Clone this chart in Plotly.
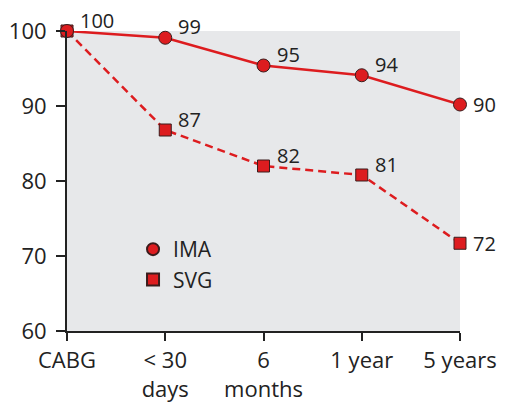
import plotly.graph_objects as go

# dados
categorias = ["CABG", "< 30<br>days", "6<br>months", "1 year", "5 years"]
ima = [100, 99.1, 95.4, 94.1, 90.2]
svg = [100, 86.8, 82.0, 80.8, 71.7]
ima_rotulos = ["100", "99", "95", "94", "90"]
svg_rotulos = ["", "87", "82", "81", "72"]

vermelho = "#dd1c1f"
borda = "#3a1c1c"
fonte = "Open Sans"

x = list(range(len(categorias)))

fig = go.Figure()
fig.add_trace(go.Scatter(
    x=x, y=svg, mode="lines+markers",
    line=dict(color=vermelho, width=2.5, dash="8px,5px"),
    marker=dict(symbol="square", size=12, color=vermelho, line=dict(color=borda, width=1)),
    cliponaxis=False, showlegend=False))
fig.add_trace(go.Scatter(
    x=x, y=ima, mode="lines+markers",
    line=dict(color=vermelho, width=2.5),
    marker=dict(symbol="circle", size=13, color=vermelho, line=dict(color=borda, width=1)),
    cliponaxis=False, showlegend=False))

# rotulos dos pontos
for serie, rotulos in [(ima, ima_rotulos), (svg, svg_rotulos)]:
    for i, (v, r) in enumerate(zip(serie, rotulos)):
        if not r:
            continue
        ultimo = i == len(serie) - 1
        fig.add_annotation(
            x=x[i], y=v, text=r, showarrow=False,
            xanchor="left", yanchor="middle",
            xshift=11, yshift=0 if ultimo else 11,
            font=dict(size=20, color="#222", family=fonte))

# entradas da legenda so com marcador
fig.add_trace(go.Scatter(x=[None], y=[None], mode="markers", name="IMA",
    marker=dict(symbol="circle", size=12, color=vermelho, line=dict(color=borda, width=1))))
fig.add_trace(go.Scatter(x=[None], y=[None], mode="markers", name="SVG",
    marker=dict(symbol="square", size=11, color=vermelho, line=dict(color=borda, width=1))))

# a pagina tem 8px de margem no body
fig.update_layout(
    width=505, height=402,
    margin=dict(l=59, r=53, t=23, b=79),
    paper_bgcolor="white", plot_bgcolor="#e7e8ea",
    font=dict(family=fonte, size=22, color="#222"),
    legend=dict(x=0.168, y=0.34, xanchor="left", yanchor="top",
                bgcolor="rgba(0,0,0,0)", font=dict(size=21), itemsizing="constant"),
)
fig.update_xaxes(
    range=[0, 4], tickvals=x, ticktext=categorias,
    showgrid=False, zeroline=False, automargin=False,
    showline=True, linecolor="#222", linewidth=2,
    ticks="outside", ticklen=8, tickwidth=1.5, tickcolor="#222",
    ticklabelstandoff=1)
fig.update_yaxes(
    range=[60, 100], tickvals=[60, 70, 80, 90, 100],
    showgrid=False, zeroline=False, automargin=False,
    showline=True, linecolor="#222", linewidth=2,
    ticks="outside", ticklen=9, tickwidth=1.5, tickcolor="#222",
    ticklabelstandoff=5)

fig.write_html("out.html")
